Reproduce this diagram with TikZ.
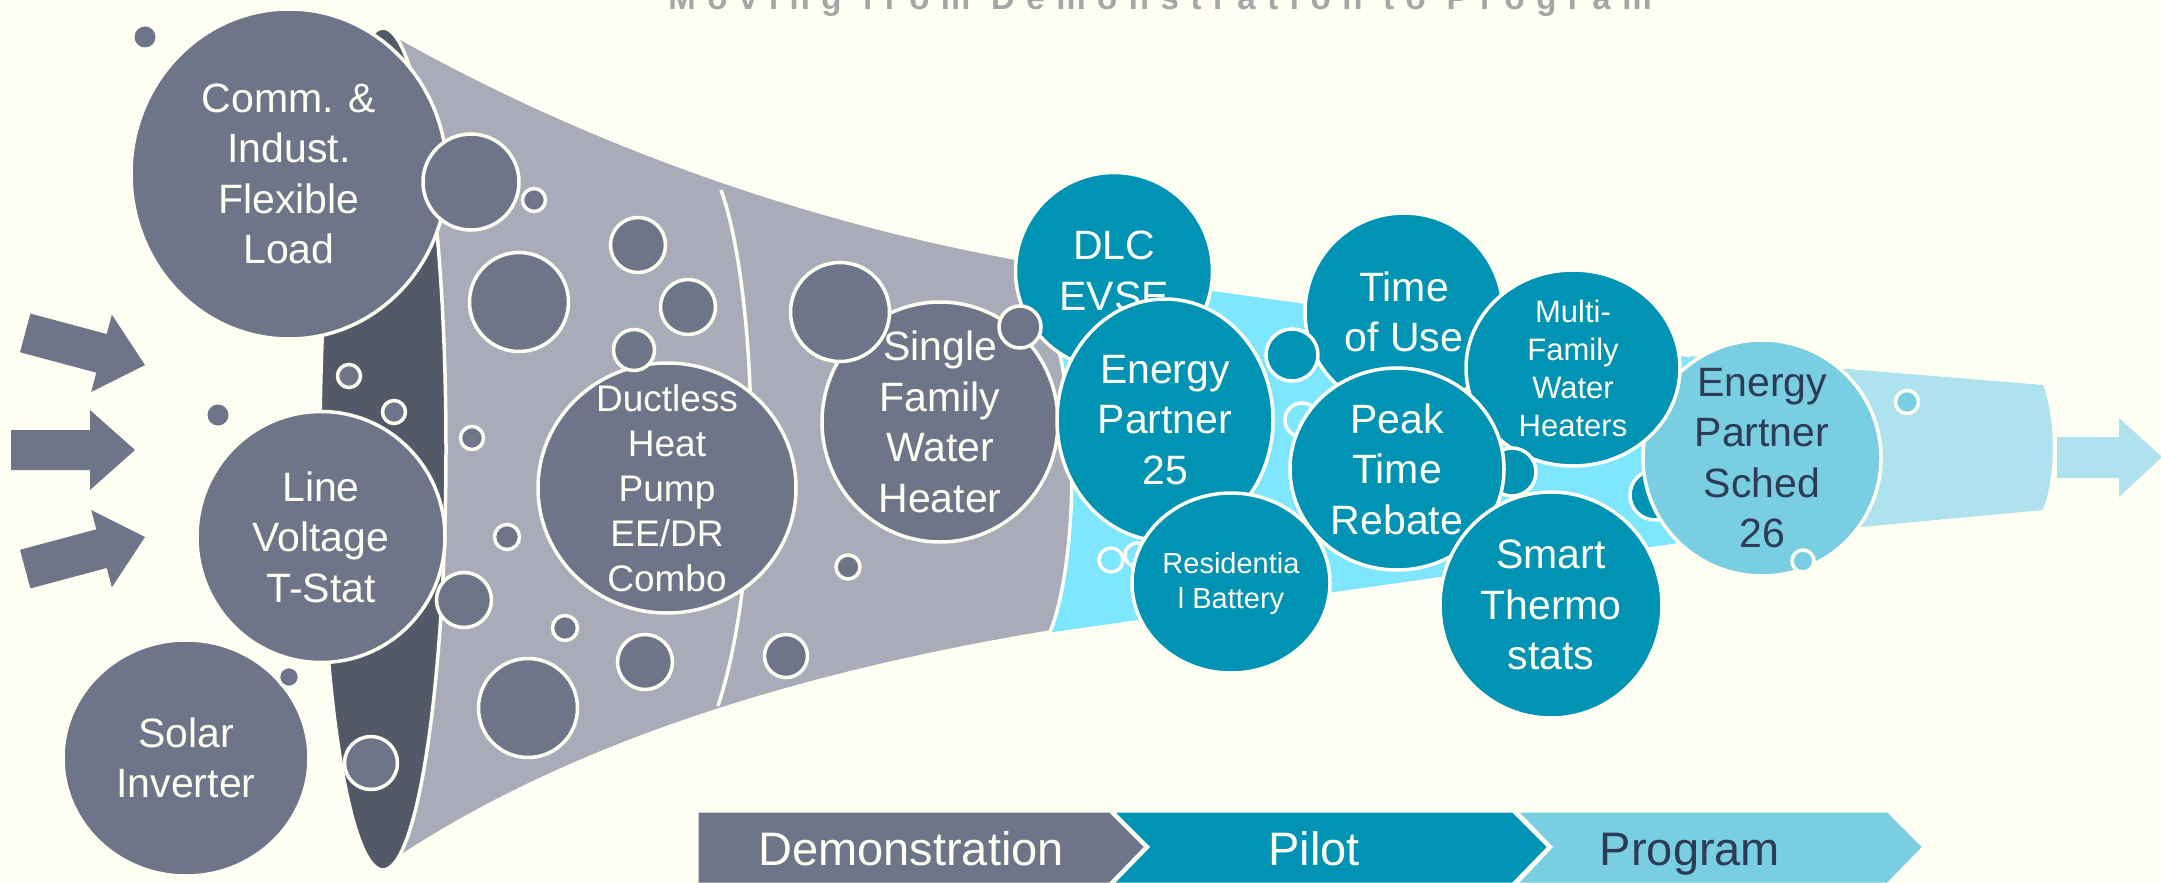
\documentclass[tikz,border=0pt]{standalone}
\usepackage{fontspec}
\setmainfont{Liberation Sans}
\usetikzlibrary{shapes.geometric}
\definecolor{cream}{HTML}{FFFEF2}
\definecolor{slate}{HTML}{6F7589}
\definecolor{lgray}{HTML}{A9ACB8}
\definecolor{dgray}{HTML}{535967}
\definecolor{teal}{HTML}{0093B4}
\definecolor{cyanb}{HTML}{7FE6FF}
\definecolor{progc}{HTML}{7ACEE2}
\definecolor{progb}{HTML}{AEE2EE}
\definecolor{navy}{HTML}{2E3B55}
\definecolor{titlegray}{HTML}{A6A6A6}
\begin{document}
\begin{tikzpicture}[x=1pt,y=-1pt,
  bub/.style={ellipse, draw=cream, line width=3.5pt, inner sep=0pt, outer sep=0pt},
  dot/.style={draw=cream, line width=3.5pt},
  txt/.style 2 args={font=\fontsize{#1}{#2}\selectfont, align=center, text=cream, inner sep=0pt},
  bigt/.style={txt={41}{50.5}},
  chev/.style={draw=cream, line width=3pt},
  chevt/.style={font=\fontsize{47}{56}\selectfont, anchor=base, inner sep=0pt}]
\useasboundingbox (0,0) rectangle (2161,883);
\fill[cream] (0,0) rectangle (2161,883);

% title (mostly cut off at the top, as in the reference)
\node[font={\fontsize{33}{38}\selectfont\bfseries\addfontfeature{LetterSpace=35}}, text=titlegray, anchor=base, inner sep=0pt] (title) at (1160,10) {Moving from Demonstration to Program};

% left arrows
\fill[slate, shift={(145,365)}, rotate=-15] (-124,-20) -- (-45,-20) -- (-45,-40) -- (0,0) -- (-45,40) -- (-45,20) -- (-124,20) -- cycle;
\fill[slate, shift={(135,450)}] (-124,-20) -- (-45,-20) -- (-45,-40) -- (0,0) -- (-45,40) -- (-45,20) -- (-124,20) -- cycle;
\fill[slate, shift={(145,537)}, rotate=15] (-124,-20) -- (-45,-20) -- (-45,-40) -- (0,0) -- (-45,40) -- (-45,20) -- (-124,20) -- cycle;
\fill[slate] (145,37) circle[radius=10.5pt];
\fill[slate] (218,415) circle[radius=10.5pt];

% program band and arrow
\fill[progb] (1690,356) -- (2043,385) .. controls (2056,420) and (2056,475) .. (2043,510) -- (1690,543) -- cycle;
\fill[progb] (2057,437) -- (2119,437) -- (2119,418) -- (2162,457) -- (2119,497) -- (2119,478) -- (2057,478) -- cycle;

% pilot band
\fill[cyanb] (990,260) -- (1700,359) -- (1700,540) -- (990,641) -- cycle;

% funnel
\filldraw[fill=lgray, draw=cream, line width=3.5pt] (383,28) .. controls (560,130) and (780,215) .. (1015,258) .. controls (1088,330) and (1080,560) .. (1050,632) .. controls (760,680) and (540,760) .. (381,870) -- cycle;
\draw[cream, line width=3.5pt] (721,190) .. controls (757,290) and (766,560) .. (718,706);
\filldraw[fill=dgray, draw=cream, line width=3.5pt] (383,449) ellipse[x radius=63pt, y radius=421pt];

% demonstration circles
\node[bub, fill=slate, minimum width=316, minimum height=330] (comm) at (289,174) {};
\node[bigt] (commT) at (comm.center) {Comm. \&\\Indust.\\Flexible\\Load};
\node[bub, fill=slate, minimum width=248, minimum height=251] (line) at (321,537) {};
\node[bigt] (lineT) at (line.center) {Line\\Voltage\\T-Stat};
\node[bub, fill=slate, minimum width=246, minimum height=236] (solar) at (186,758) {};
\node[bigt] (solarT) at (solar.center) {Solar\\Inverter};
\node[bub, fill=slate, minimum width=258, minimum height=250] (duct) at (667,488) {};
\node[txt={37}{45}] (ductT) at (duct.center) {Ductless\\Heat\\Pump\\EE/DR\\Combo};
\node[bub, fill=slate, minimum width=236, minimum height=240] (single) at (940,422) {};

% small funnel circles
\foreach \cx/\cy/\r in {471/182/48, 534/200/11.5, 519/302/49.5, 638/245/27.5, 688/307/27.5, 634/350/20.5,
  349/376/11.5, 394/412/11.5, 472/438/11.5, 507/537/12.5, 565/628/12.5, 464/600/27.5, 645/662/27.5,
  528/708/49.5, 371/763/26.5, 289/677/10.5, 848/567/12, 786/656/21.5}
  \filldraw[fill=slate, dot] (\cx,\cy) circle[radius=\r pt];

% pilot circles
\node[bub, fill=teal, minimum width=197, minimum height=197] (dlc) at (1114,271) {};
\node[bigt] (dlcT) at (dlc.center) {DLC\\EVSE};
\filldraw[fill=slate, dot] (840,312) circle[radius=49.5pt];
\filldraw[fill=slate, dot] (1020,327) circle[radius=21pt];
\node[bigt] (singleT) at (single.center) {Single\\Family\\Water\\Heater};

\node[bub, fill=teal, minimum width=216, minimum height=242] (ep) at (1165,420) {};
\node[bigt] (epT) at (ep.center) {Energy\\Partner\\25};
\filldraw[fill=cyanb, dot] (1137,555) circle[radius=12pt];
\filldraw[fill=cyanb, dot] (1111,560) circle[radius=12pt];
\node[bub, fill=teal, minimum width=198, minimum height=180] (res) at (1231,583) {};
\node[txt={29}{35}] (resT) at (res.center) {Residentia\\l Battery};

\node[bub, fill=teal, minimum width=198, minimum height=198] (tou) at (1404,312) {};
\node[bigt] (touT) at (tou.center) {Time\\of Use};
\filldraw[fill=teal, dot] (1292,355) circle[radius=26pt];
\filldraw[fill=teal, dot] (1655,495) circle[radius=25pt];

\node[bub, fill=progc, minimum width=238, minimum height=236] (prog) at (1762,458) {};
\node[txt={41}{50.5}, text=navy] (progT) at (prog.center) {Energy\\Partner\\Sched\\26};
\filldraw[fill=progc, dot] (1907,402) circle[radius=11.5pt];
\filldraw[fill=progc, dot] (1803,561) circle[radius=11pt];

\node[bub, fill=teal, minimum width=214, minimum height=196] (multi) at (1573,368) {};
\node[txt={31}{38}] (multiT) at (multi.center) {Multi-\\Family\\Water\\Heaters};
\filldraw[fill=teal, dot] (1512,472) circle[radius=24pt];
\filldraw[fill=cyanb, dot] (1302,420) circle[radius=17pt];

\node[bub, fill=teal, minimum width=214, minimum height=202] (peak) at (1397,469) {};
\node[bigt] (peakT) at (peak.center) {Peak\\Time\\Rebate};
\node[bub, fill=teal, minimum width=222, minimum height=226] (smart) at (1551,605) {};
\node[bigt] (smartT) at (smart.center) {Smart\\Thermo\\stats};

% stage chevrons
\filldraw[fill=progc, chev] (1516,811) -- (1888,811) -- (1924,847) -- (1888,884) -- (1516,884) -- (1551,847) -- cycle;
\filldraw[fill=teal, chev] (1112,811) -- (1513,811) -- (1549,847) -- (1513,884) -- (1112,884) -- (1148,847) -- cycle;
\filldraw[fill=slate, chev] (697,811) -- (1110,811) -- (1146,847) -- (1110,884) -- (697,884) -- cycle;
\node[chevt, text=cream] (demoT) at (911,865) {Demonstration};
\node[chevt, text=cream] (pilotT) at (1314,865) {Pilot};
\node[chevt, text=navy] (progLT) at (1690,865) {Program};
\end{tikzpicture}
\end{document}
